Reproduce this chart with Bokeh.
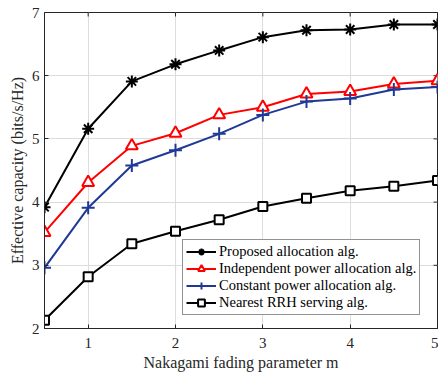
from math import pi
from bokeh.plotting import figure
from bokeh.models import Range1d, Legend, LegendItem, FixedTicker
from bokeh.embed import file_html
from bokeh.resources import INLINE

m = [0.5, 1.0, 1.5, 2.0, 2.5, 3.0, 3.5, 4.0, 4.5, 5.0]
proposed = [3.92, 5.16, 5.91, 6.18, 6.40, 6.61, 6.72, 6.73, 6.81, 6.81]
independent = [3.52, 4.31, 4.89, 5.09, 5.38, 5.50, 5.71, 5.75, 5.87, 5.92]
constant = [2.96, 3.91, 4.58, 4.82, 5.08, 5.38, 5.59, 5.64, 5.78, 5.82]
nearest = [2.13, 2.82, 3.34, 3.54, 3.72, 3.93, 4.06, 4.18, 4.25, 4.34]

labels = ["Proposed allocation alg.", "Independent power allocation alg.",
          "Constant power allocation alg.", "Nearest RRH serving alg."]
x_ticks = [1, 2, 3, 4, 5]
y_ticks = [2, 3, 4, 5, 6, 7]
x_lim = (0.5, 5)
y_lim = (2, 7)

FONT = "Liberation Serif"
TXT = "#262626"

p = figure(width=438, height=373, output_backend="svg", toolbar_location=None,
           x_range=Range1d(*x_lim), y_range=Range1d(*y_lim),
           min_border_left=44, min_border_right=1, min_border_top=12, min_border_bottom=43)
p.background_fill_color = "white"
p.border_fill_color = "white"
p.outline_line_color = "#262626"
p.outline_line_width = 1

for ax, ticks in ((p.xaxis[0], x_ticks), (p.yaxis[0], y_ticks)):
    ax.ticker = FixedTicker(ticks=ticks)
    ax.major_tick_in = 4
    ax.major_tick_out = 0
    ax.minor_tick_line_color = None
    ax.axis_line_color = "#262626"
    ax.major_tick_line_color = "#262626"
    ax.major_label_text_font = FONT
    ax.major_label_text_font_size = "15px"
    ax.major_label_text_color = TXT
    ax.axis_label_text_font = FONT
    ax.axis_label_text_font_size = "16px"
    ax.axis_label_text_font_style = "normal"
    ax.axis_label_text_color = TXT

p.xaxis[0].axis_label = "Nakagami fading parameter m"
p.yaxis[0].axis_label = "Effective capacity (bits/s/Hz)"
p.xaxis[0].major_label_standoff = 9
p.yaxis[0].major_label_standoff = 5
p.xaxis[0].axis_label_standoff = 3
p.yaxis[0].axis_label_standoff = 3

p.xgrid.ticker = FixedTicker(ticks=x_ticks)
p.ygrid.ticker = FixedTicker(ticks=y_ticks)
p.grid.grid_line_color = "#dcdcdc"
p.grid.grid_line_width = 1

# inward ticks on the top and right edges of the box
p.scatter(x_ticks, [y_lim[1]] * len(x_ticks), marker="dash", angle=pi / 2, size=8,
          line_color="#262626", line_width=1)
p.scatter([x_lim[1]] * len(y_ticks), y_ticks, marker="dash", size=8,
          line_color="#262626", line_width=1)

series = [
    (proposed, "black", "asterisk", 12),
    (independent, "#ff0000", "triangle", 12),
    (constant, "#1f3a96", "cross", 13),
    (nearest, "black", "square", 9),
]
items = []
for (vals, color, marker, size), lab in zip(series, labels):
    r1 = p.line(m, vals, line_color=color, line_width=2)
    r2 = p.scatter(m, vals, marker=marker, size=size, line_color=color,
                   fill_color="white" if marker in ("triangle", "square") else color,
                   line_width=2)
    items.append(LegendItem(label=lab, renderers=[r1, r2]))

legend = Legend(items=items, location=(138, 13))
legend.label_text_font = FONT
legend.label_text_font_size = "14.5px"
legend.label_text_color = "black"
legend.border_line_color = "#262626"
legend.border_line_width = 1
legend.background_fill_alpha = 1
legend.glyph_width = 30
legend.glyph_height = 17
legend.label_height = 17
legend.label_standoff = 3
legend.padding = 3
legend.spacing = 0
legend.margin = 0
p.add_layout(legend, "center")

open("out.html", "w").write(file_html(p, INLINE))
